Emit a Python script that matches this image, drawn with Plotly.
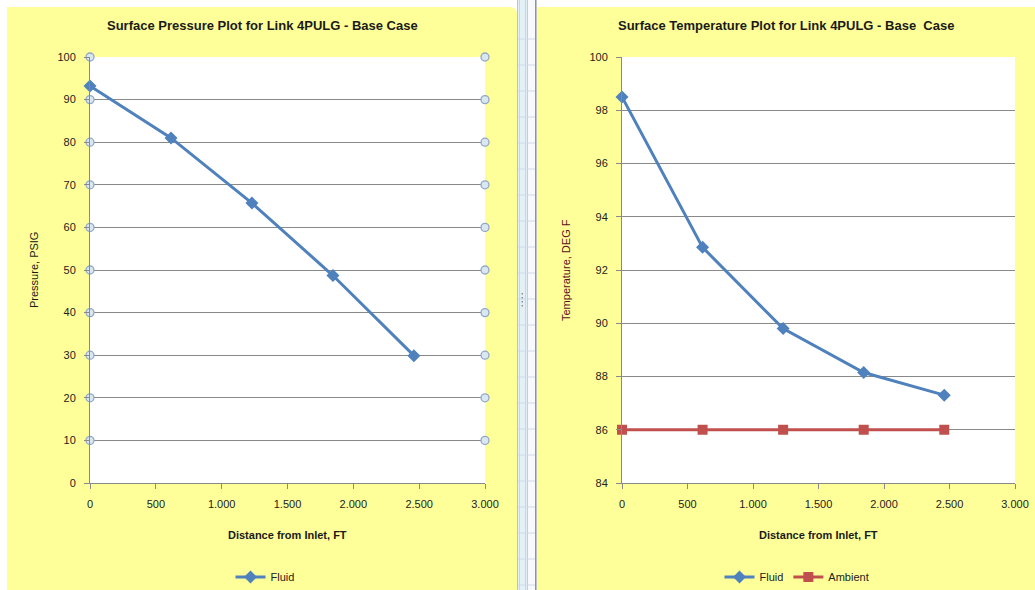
import plotly.graph_objects as go

# ---- data ----
distance_ft = [0, 615, 1230, 1845, 2460]
pressure_psig = [93.2, 81.0, 65.7, 48.7, 29.9]
fluid_temp_f = [98.5, 92.85, 89.8, 88.15, 87.3]
ambient_temp_f = [86.0, 86.0, 86.0, 86.0, 86.0]

x_ticks = [0, 500, 1000, 1500, 2000, 2500, 3000]
x_tick_labels = ["0", "500", "1.000", "1.500", "2.000", "2.500", "3.000"]
p_ticks = [0, 10, 20, 30, 40, 50, 60, 70, 80, 90, 100]
t_ticks = [84, 86, 88, 90, 92, 94, 96, 98, 100]

W, H = 1035, 590
BLUE = "#4F81BD"
RED = "#C0504D"
GRID = "#898989"
YELLOW = "#FFFF99"
FONT = "Liberation Sans"

def px(x):
    return x / W

def py(y):
    return 1 - y / H

fig = go.Figure()

# left: pressure
fig.add_trace(go.Scatter(
    x=distance_ft, y=pressure_psig, name="Fluid", mode="lines+markers",
    line=dict(color=BLUE, width=3), marker=dict(symbol="diamond", size=10, color=BLUE),
    xaxis="x", yaxis="y", legend="legend", cliponaxis=False))

# selection handles on gridline ends (derived from tick arrays)
hx, hy = [], []
for t in p_ticks[1:]:
    hx += [x_ticks[0], x_ticks[-1]]
    hy += [t, t]
fig.add_trace(go.Scatter(
    x=hx, y=hy, mode="markers", showlegend=False, hoverinfo="skip",
    marker=dict(symbol="circle", size=8, color="#DCE6F0", line=dict(color="#8EA9C6", width=1.3)),
    xaxis="x", yaxis="y", cliponaxis=False))

# right: temperature
fig.add_trace(go.Scatter(
    x=distance_ft, y=fluid_temp_f, name="Fluid", mode="lines+markers",
    line=dict(color=BLUE, width=3), marker=dict(symbol="diamond", size=10, color=BLUE),
    xaxis="x2", yaxis="y2", legend="legend2", cliponaxis=False))
fig.add_trace(go.Scatter(
    x=distance_ft, y=ambient_temp_f, name="Ambient", mode="lines+markers",
    line=dict(color=RED, width=3), marker=dict(symbol="square", size=10, color=RED),
    xaxis="x2", yaxis="y2", legend="legend2", cliponaxis=False))

tickfont = dict(family=FONT, size=11, color="#222222")
common_x = dict(range=[0, 3000], tickvals=x_ticks, ticktext=x_tick_labels,
                showgrid=False, zeroline=False, showline=True, linecolor=GRID, linewidth=1,
                ticks="outside", ticklen=5, tickcolor=GRID, tickfont=tickfont, fixedrange=True,
                ticklabelstandoff=6)
common_y = dict(showgrid=True, gridcolor=GRID, gridwidth=1, zeroline=False, showline=True,
                linecolor=GRID, linewidth=1, ticks="outside", ticklen=5, tickcolor=GRID,
                tickfont=tickfont, fixedrange=True, ticklabelstandoff=6)

ydom = [py(483), py(57)]
L_X = [px(90), px(485)]
R_X = [px(622), px(1015)]

fig.update_layout(
    width=W, height=H, margin=dict(l=0, r=0, t=0, b=0, autoexpand=False),
    paper_bgcolor="white", plot_bgcolor="white",
    xaxis=dict(domain=L_X, anchor="y", **common_x),
    yaxis=dict(domain=ydom, anchor="x", range=[0, 100], tickvals=p_ticks, **common_y),
    xaxis2=dict(domain=R_X, anchor="y2", **common_x),
    yaxis2=dict(domain=ydom, anchor="x2", range=[84, 100], tickvals=t_ticks, **common_y),
    legend=dict(orientation="h", x=px(265), y=py(577), xanchor="center", yanchor="middle",
                bgcolor="rgba(0,0,0,0)", font=dict(family=FONT, size=11, color="#222222")),
    legend2=dict(orientation="h", x=px(797), y=py(577), xanchor="center", yanchor="middle",
                 bgcolor="rgba(0,0,0,0)", font=dict(family=FONT, size=11, color="#222222")),
    showlegend=True,
)

shapes = []
# yellow chart panels
shapes.append(dict(type="path", xref="paper", yref="paper", layer="below",
                   path=f"M {px(7)},{py(590)} L {px(7)},{py(7)} L {px(510)},{py(7)} "
                        f"Q {px(517)},{py(7)} {px(517)},{py(14)} L {px(517)},{py(590)} Z",
                   fillcolor=YELLOW, line=dict(width=0)))
shapes.append(dict(type="rect", xref="paper", yref="paper", layer="below",
                   x0=px(537), x1=1, y0=0, y1=py(7), fillcolor=YELLOW, line=dict(width=0)))
# white plot areas
for dom in (L_X, R_X):
    shapes.append(dict(type="rect", xref="paper", yref="paper", layer="below",
                       x0=dom[0], x1=dom[1], y0=ydom[0], y1=ydom[1], fillcolor="white",
                       line=dict(width=0)))
# spreadsheet strip between the two charts
shapes.append(dict(type="rect", xref="paper", yref="paper", layer="below",
                   x0=px(518), x1=px(527), y0=0, y1=1, fillcolor="#E3F1F6", line=dict(width=0)))
shapes.append(dict(type="rect", xref="paper", yref="paper", layer="below",
                   x0=px(527), x1=px(535.5), y0=0, y1=1, fillcolor="#F7F9FD", line=dict(width=0)))
for xv, col, w in [(517.5, "#B8C4CC", 1), (519.5, "#C8D6DE", 1), (525.5, "#C8D6DE", 1),
                   (527.5, "#C5CCD6", 1), (535.8, "#8A8F96", 1.5)]:
    shapes.append(dict(type="line", xref="paper", yref="paper", layer="below",
                       x0=px(xv), x1=px(xv), y0=0, y1=1, line=dict(color=col, width=w)))
y = 39
while y < H:
    shapes.append(dict(type="line", xref="paper", yref="paper", layer="below",
                       x0=px(518), x1=px(535), y0=py(y), y1=py(y),
                       line=dict(color="#D0D8E8", width=1)))
    y += 26
for k in range(4):
    shapes.append(dict(type="rect", xref="paper", yref="paper", layer="below",
                       x0=px(521.5), x1=px(523), y0=py(293 + 4 * k), y1=py(294.5 + 4 * k),
                       fillcolor="#8A8F96", line=dict(width=0)))
fig.update_layout(shapes=shapes)

ann = []
ann.append(dict(text="<b>Surface Pressure Plot for Link 4PULG - Base Case</b>", xref="paper", yref="paper",
                x=px(262), y=py(26), xanchor="center", yanchor="middle", showarrow=False,
                font=dict(family=FONT, size=13, color="#1a1a1a")))
ann.append(dict(text="<b>Surface Temperature Plot for Link 4PULG - Base  Case</b>", xref="paper", yref="paper",
                x=px(786), y=py(26), xanchor="center", yanchor="middle", showarrow=False,
                font=dict(family=FONT, size=13, color="#1a1a1a")))
for cx in (287, 818):
    ann.append(dict(text="<b>Distance from Inlet, FT</b>", xref="paper", yref="paper",
                    x=px(cx), y=py(535), xanchor="center", yanchor="middle", showarrow=False,
                    font=dict(family=FONT, size=11, color="#1a1a1a")))
ann.append(dict(text="Pressure, PSIG", xref="paper", yref="paper", x=px(34), y=py(270),
                xanchor="center", yanchor="middle", textangle=-90, showarrow=False,
                font=dict(family=FONT, size=11, color="#1a1a1a")))
ann.append(dict(text="Temperature, DEG F", xref="paper", yref="paper", x=px(566), y=py(270),
                xanchor="center", yanchor="middle", textangle=-90, showarrow=False,
                font=dict(family=FONT, size=11, color="#5a0f22")))
fig.update_layout(annotations=ann)

fig.write_html("out.html")
